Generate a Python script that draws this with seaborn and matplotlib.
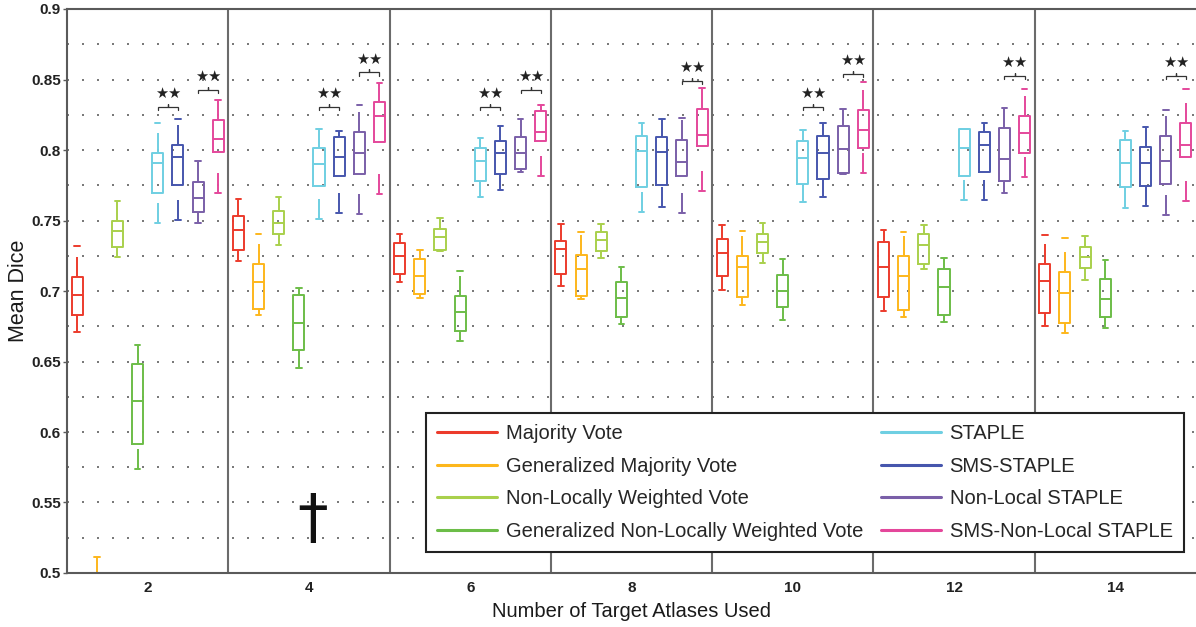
import numpy as np
import pandas as pd
import matplotlib
matplotlib.use("Agg")
import matplotlib.pyplot as plt
from matplotlib.lines import Line2D
from matplotlib.ticker import FixedLocator, MultipleLocator
import seaborn as sns

# ---------------------------------------------------------------- data
atlas_counts = ["2", "4", "6", "8", "10", "12", "14"]

methods = [
    "Majority Vote",
    "Generalized Majority Vote",
    "Non-Locally Weighted Vote",
    "Generalized Non-Locally Weighted Vote",
    "STAPLE",
    "SMS-STAPLE",
    "Non-Local STAPLE",
    "SMS-Non-Local STAPLE",
]

# five-number summaries per atlas count: [low whisker, Q1, median, Q3, high whisker]
majority_vote = [
    [0.6710, 0.6830, 0.6970, 0.7100, 0.7320],
    [0.7213, 0.7291, 0.7430, 0.7534, 0.7652],
    [0.7062, 0.7118, 0.7248, 0.7338, 0.7404],
    [0.7035, 0.7118, 0.7296, 0.7357, 0.7473],
    [0.7007, 0.7106, 0.7267, 0.7369, 0.7468],
    [0.6860, 0.6960, 0.7168, 0.7350, 0.7433],
    [0.6754, 0.6846, 0.7071, 0.7189, 0.7397],
]
generalized_majority_vote = [
    [0.4400, 0.4650, 0.4800, 0.4970, 0.5110],
    [0.6830, 0.6870, 0.7062, 0.7189, 0.7404],
    [0.6953, 0.6979, 0.7109, 0.7225, 0.7291],
    [0.6941, 0.6965, 0.7153, 0.7255, 0.7416],
    [0.6901, 0.6960, 0.7168, 0.7250, 0.7428],
    [0.6813, 0.6865, 0.7109, 0.7250, 0.7421],
    [0.6704, 0.6771, 0.6983, 0.7137, 0.7374],
]
nonlocal_weighted_vote = [
    [0.7243, 0.7314, 0.7423, 0.7496, 0.7638],
    [0.7326, 0.7404, 0.7480, 0.7567, 0.7669],
    [0.7281, 0.7291, 0.7385, 0.7440, 0.7520],
    [0.7236, 0.7284, 0.7362, 0.7416, 0.7473],
    [0.7201, 0.7272, 0.7350, 0.7402, 0.7480],
    [0.7154, 0.7189, 0.7326, 0.7404, 0.7468],
    [0.7078, 0.7161, 0.7243, 0.7314, 0.7392],
]
generalized_nonlocal_weighted_vote = [
    [0.5738, 0.5915, 0.6222, 0.6480, 0.6617],
    [0.6456, 0.6582, 0.6775, 0.6972, 0.7019],
    [0.6645, 0.6719, 0.6853, 0.6967, 0.7142],
    [0.6766, 0.6813, 0.6953, 0.7062, 0.7168],
    [0.6794, 0.6884, 0.7002, 0.7113, 0.7225],
    [0.6778, 0.6830, 0.7026, 0.7154, 0.7232],
    [0.6740, 0.6813, 0.6941, 0.7083, 0.7220],
]
staple = [
    [0.7485, 0.7693, 0.7905, 0.7981, 0.8190],
    [0.7511, 0.7747, 0.7898, 0.8012, 0.8149],
    [0.7669, 0.7780, 0.7922, 0.8016, 0.8083],
    [0.7558, 0.7740, 0.7993, 0.8101, 0.8194],
    [0.7629, 0.7759, 0.7946, 0.8064, 0.8142],
    [0.7645, 0.7818, 0.8012, 0.8147, 0.8150],
    [0.7586, 0.7740, 0.7905, 0.8071, 0.8137],
]
sms_staple = [
    [0.7504, 0.7752, 0.7953, 0.8035, 0.8218],
    [0.7555, 0.7818, 0.7950, 0.8094, 0.8137],
    [0.7716, 0.7828, 0.7977, 0.8064, 0.8173],
    [0.7598, 0.7752, 0.7988, 0.8090, 0.8218],
    [0.7664, 0.7794, 0.7981, 0.8101, 0.8194],
    [0.7645, 0.7842, 0.8035, 0.8130, 0.8194],
    [0.7603, 0.7745, 0.7910, 0.8023, 0.8165],
]
nonlocal_staple = [
    [0.7485, 0.7562, 0.7657, 0.7773, 0.7922],
    [0.7544, 0.7828, 0.7979, 0.8125, 0.8321],
    [0.7842, 0.7865, 0.7981, 0.8094, 0.8218],
    [0.7551, 0.7818, 0.7918, 0.8071, 0.8229],
    [0.7832, 0.7835, 0.8005, 0.8173, 0.8289],
    [0.7693, 0.7783, 0.7936, 0.8154, 0.8296],
    [0.7539, 0.7757, 0.7922, 0.8101, 0.8284],
]
sms_nonlocal_staple = [
    [0.7693, 0.7988, 0.8076, 0.8213, 0.8355],
    [0.7686, 0.8055, 0.8241, 0.8338, 0.8473],
    [0.7818, 0.8064, 0.8130, 0.8277, 0.8319],
    [0.7709, 0.8031, 0.8106, 0.8289, 0.8438],
    [0.7839, 0.8012, 0.8142, 0.8284, 0.8480],
    [0.7811, 0.7981, 0.8118, 0.8241, 0.8433],
    [0.7638, 0.7948, 0.8035, 0.8194, 0.8433],
]

y_ticks = [0.5, 0.55, 0.6, 0.65, 0.7, 0.75, 0.8, 0.85, 0.9]
y_tick_labels = ["0.5", "0.55", "0.6", "0.65", "0.7", "0.75", "0.8", "0.85", "0.9"]

# significant pairs: (atlas-count index, method a, method b, bracket height)
significance = [
    (0, 4, 5, 0.8305), (0, 6, 7, 0.8426),
    (1, 4, 5, 0.8305), (1, 6, 7, 0.8550),
    (2, 4, 5, 0.8305), (2, 6, 7, 0.8426),
    (3, 6, 7, 0.8490),
    (4, 4, 5, 0.8305), (4, 6, 7, 0.8540),
    (5, 6, 7, 0.8525),
    (6, 6, 7, 0.8525),
]

colors = ["#ec3b2c", "#fdb71c", "#a9d04c", "#6cbd48",
          "#6fcfe2", "#4656ad", "#7a5fa8", "#e4479b"]

series = [majority_vote, generalized_majority_vote, nonlocal_weighted_vote,
          generalized_nonlocal_weighted_vote, staple, sms_staple,
          nonlocal_staple, sms_nonlocal_staple]

rows = []
for method, summaries in zip(methods, series):
    for count, five in zip(atlas_counts, summaries):
        for v in five:
            rows.append((count, method, v))
df = pd.DataFrame(rows, columns=["atlases", "method", "dice"])

# ---------------------------------------------------------------- style
sns.set_theme(style="white")
plt.rcParams["font.family"] = ["Liberation Sans", "DejaVu Sans"]
plt.rcParams["lines.scale_dashes"] = False

DPI = 100
fig = plt.figure(figsize=(11.96, 6.27), dpi=DPI)
ax = fig.add_axes([67 / 1196, 54 / 627, (1196 - 67) / 1196, (573 - 9) / 627])

n_methods = len(methods)
sns.boxplot(
    data=df, x="atlases", y="dice", hue="method",
    order=atlas_counts, hue_order=methods, palette=colors,
    dodge=True, width=1.0, gap=0.45, fill=False, whis=(0, 100),
    linewidth=1.4, legend=False, ax=ax,
    whiskerprops=dict(linestyle=(0, (14.4, 28.8))),
)

# whiskers are dashed starting from their lower end
for line in ax.lines:
    x = np.asarray(line.get_xdata(), dtype=float)
    y = np.asarray(line.get_ydata(), dtype=float)
    if len(x) == 2 and x[0] == x[1] and y[0] > y[1]:
        line.set_data(x[::-1], y[::-1])

ax.set_xlim(-0.5, len(atlas_counts) - 0.5)
ax.set_ylim(0.5, 0.9)

# group separators
for g in range(len(atlas_counts) - 1):
    ax.axvline(g + 0.5, color="#6b6b6b", lw=1.5, zorder=1)

# dotted horizontal grid every 0.025
ax.yaxis.set_major_locator(FixedLocator(y_ticks))
ax.set_yticklabels(y_tick_labels)
ax.yaxis.set_minor_locator(MultipleLocator(0.025))
ax.grid(False)
ax.grid(True, which="both", axis="y", color="#7a7a7a",
        linestyle=(0, (1.44, 9.36)), linewidth=1.44)
ax.set_axisbelow(True)

for side in ["left", "bottom", "top"]:
    ax.spines[side].set_color("#5a5a5a")
    ax.spines[side].set_linewidth(1.5)
ax.spines["right"].set_visible(False)

ax.tick_params(axis="y", which="major", direction="out", length=3,
               width=1.0, color="#5a5a5a", labelsize=11, pad=1.5,
               left=True)
ax.tick_params(axis="y", which="minor", length=0)
ax.tick_params(axis="x", length=0, labelsize=11, pad=6)
for lbl in ax.get_xticklabels() + ax.get_yticklabels():
    lbl.set_color("#222222")
    lbl.set_fontweight("bold")

ax.set_xlabel("Number of Target Atlases Used", fontsize=14.5, labelpad=5,
              color="#1a1a1a")
ax.set_ylabel("Mean Dice", fontsize=15.5, color="#1a1a1a")
ax.yaxis.set_label_coords((29 - 67) / 1129, 0.5)

# significance brackets
tick = 0.0022
for g, a, b, h in significance:
    xa = g - 0.5 + (a + 0.5) / n_methods
    xb = g - 0.5 + (b + 0.5) / n_methods
    xm = 0.5 * (xa + xb)
    ax.plot([xa, xa, xm, xm, xm, xb, xb],
            [h - tick, h, h, h + tick, h, h, h - tick],
            color="#333333", lw=0.9, zorder=5, solid_joinstyle="miter")
    ax.text(xm, h + 0.0042, "★★", ha="center", va="bottom", fontsize=10.5,
            family="DejaVu Sans", color="#222222", zorder=5)

# dagger mark
ax.text(1.02, 0.537, "†", ha="center", va="center", fontsize=44,
        family="DejaVu Sans", color="#111111", zorder=5)

# legend
handles = [Line2D([0], [0], color=c, lw=2.2) for c in colors]
leg = ax.legend(
    handles, methods, ncol=2, loc="upper left",
    bbox_to_anchor=(426 / 1196, 1 - 413 / 627), bbox_transform=fig.transFigure,
    borderaxespad=0, frameon=True, fancybox=False, framealpha=1,
    edgecolor="#222222", facecolor="white", fontsize=14.5,
    handlelength=3.0, handletextpad=0.4, columnspacing=0.9,
    labelspacing=0.68, borderpad=0.55,
)
leg.get_frame().set_linewidth(1.5)
leg.set_zorder(10)

fig.savefig("out.png", dpi=DPI)
